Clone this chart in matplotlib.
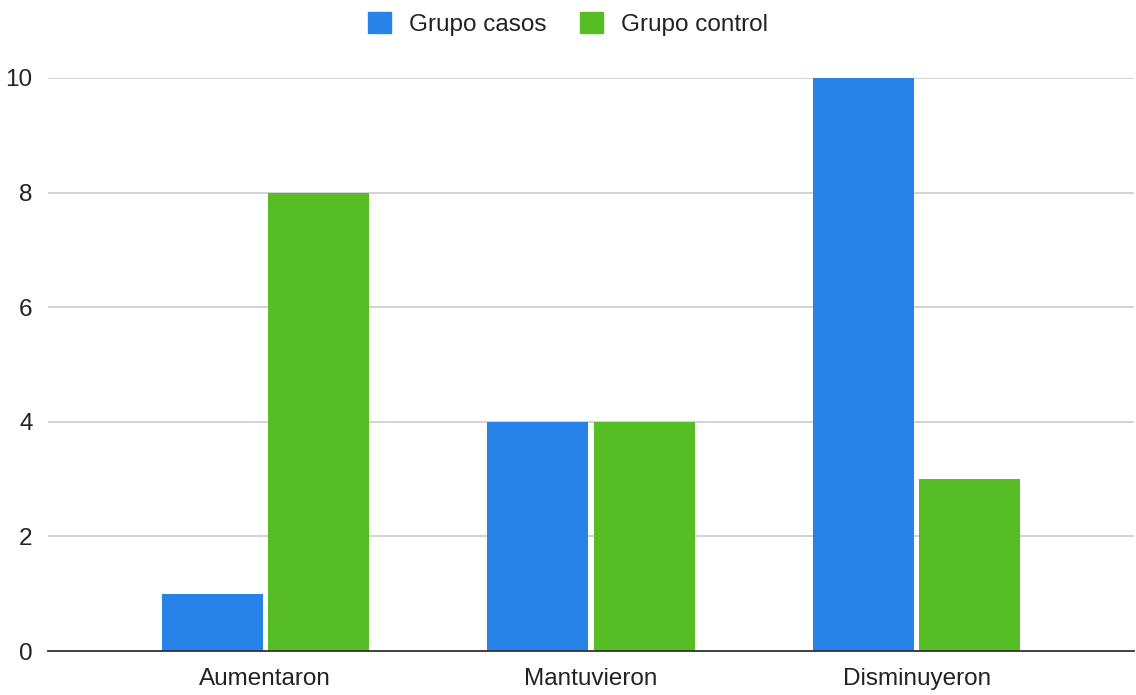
import matplotlib.pyplot as plt
import numpy as np
from matplotlib.patches import Patch

plt.rcParams["font.family"] = ["Liberation Sans", "DejaVu Sans"]

categories = ["Aumentaron", "Mantuvieron", "Disminuyeron"]
grupo_casos = [1, 4, 10]
grupo_control = [8, 4, 3]

BLUE = "#2883E9"
GREEN = "#57BD25"


def main() -> None:
    fig = plt.figure(figsize=(11.36, 6.95), dpi=100)
    ax = fig.add_axes([48 / 1136, 44 / 695, 1086 / 1136, 573 / 695])

    x = np.arange(len(categories))
    w = 0.31
    ax.bar(x - 0.163, grupo_casos, width=w, color=BLUE, zorder=3)
    ax.bar(x + 0.163, grupo_control, width=w, color=GREEN, zorder=3)

    ax.set_xlim(-0.667, 2.667)
    ax.set_ylim(0, 10)
    ax.set_yticks([0, 2, 4, 6, 8, 10])
    ax.set_xticks(x)
    ax.set_xticklabels(categories)
    ax.tick_params(axis="both", length=0, labelsize=17.5, colors="#222222")
    ax.tick_params(axis="y", pad=11)
    ax.tick_params(axis="x", pad=12)
    ax.grid(axis="y", color="#cccccc", lw=1.2, zorder=0)
    ax.set_axisbelow(True)
    for s in ["top", "right", "left"]:
        ax.spines[s].set_visible(False)
    ax.spines["bottom"].set_color("#333333")
    ax.spines["bottom"].set_linewidth(1.3)
    ax.spines["bottom"].set_zorder(4)

    handles = [Patch(color=BLUE, label="Grupo casos"), Patch(color=GREEN, label="Grupo control")]
    fig.legend(handles=handles, loc="center", bbox_to_anchor=(0.5, 1 - 24 / 695), ncol=2,
               frameon=False, fontsize=17.5, handlelength=0.95, handleheight=0.95,
               handletextpad=0.72, columnspacing=1.4, labelcolor="#222222")

    fig.savefig("out.png", dpi=100)
    plt.close(fig)


if __name__ == "__main__":
    main()
